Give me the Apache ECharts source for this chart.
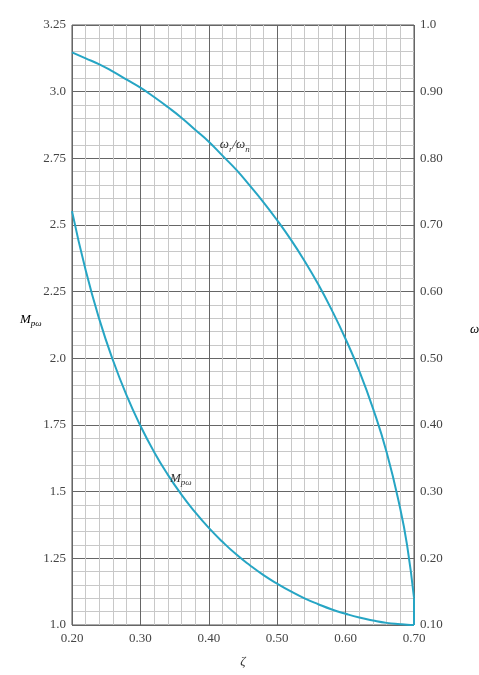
<!DOCTYPE html>
<html><head><meta charset="utf-8">
<script src="https://cdn.jsdelivr.net/npm/echarts@6/dist/echarts.min.js"></script>
<style>html,body{margin:0;padding:0;background:#fff}#c{width:479px;height:675px}</style>
</head><body><div id="c"></div>
<script>
const zeta = [0.20,0.22,0.24,0.26,0.28,0.30,0.32,0.34,0.36,0.38,0.40,0.42,0.44,0.46,0.48,0.50,0.52,0.54,0.56,0.58,0.60,0.62,0.64,0.66,0.68,0.69,0.70];
const mpw = [2.552,2.330,2.146,1.992,1.860,1.747,1.649,1.564,1.489,1.423,1.364,1.312,1.265,1.224,1.187,1.155,1.126,1.100,1.078,1.058,1.042,1.028,1.017,1.008,1.003,1.001,1.000];
const wrwn = [0.959,0.950,0.941,0.930,0.918,0.906,0.892,0.877,0.861,0.843,0.825,0.804,0.783,0.759,0.734,0.707,0.678,0.646,0.611,0.572,0.529,0.481,0.425,0.359,0.274,0.219,0.141];
const wrwnEnd = [[0.70,0.141],[0.70,0.10]];
const xTickLabels = {"0.2":"0.20","0.3":"0.30","0.4":"0.40","0.5":"0.50","0.6":"0.60","0.7":"0.70"};
const leftTickLabels = {"1":"1.0","1.25":"1.25","1.5":"1.5","1.75":"1.75","2":"2.0","2.25":"2.25","2.5":"2.5","2.75":"2.75","3":"3.0","3.25":"3.25"};
const rightTickLabels = {"0.1":"0.10","0.2":"0.20","0.3":"0.30","0.4":"0.40","0.5":"0.50","0.6":"0.60","0.7":"0.70","0.8":"0.80","0.9":"0.90","1":"1.0"};

const SERIF = '"Liberation Serif","DejaVu Serif",serif';
const CURVE = '#26a5c4';
const key = v => String(Math.round(v*1000)/1000);
const rich = {
  i:{fontFamily:SERIF,fontStyle:'italic',fontSize:13,color:'#333'},
  s:{fontFamily:SERIF,fontStyle:'italic',fontSize:9,color:'#333',padding:[9,0,0,0]}
};
const axisLab = {fontFamily:SERIF,fontSize:13,color:'#444'};
const major = {show:true,lineStyle:{color:'#666',width:1}};
const minor = {show:true,lineStyle:{color:'#c8c8c8',width:1}};

const chart = echarts.init(document.getElementById('c'));
chart.setOption({
  animation:false,
  backgroundColor:'#fff',
  grid:{left:72,right:65,top:25,bottom:50,show:true,borderColor:'#555',borderWidth:1,
    containLabel:false,outerBoundsMode:'none'},
  xAxis:{type:'value',min:0.2,max:0.7,interval:0.1,
    axisLine:{show:false},axisTick:{show:false},
    minorTick:{show:false,splitNumber:5},minorSplitLine:minor,splitLine:major,
    axisLabel:Object.assign({formatter:v=>xTickLabels[key(v)]||'',margin:7},axisLab),
    name:'{i|ζ}',nameLocation:'middle',nameGap:30,nameTextStyle:{rich:rich}},
  yAxis:[
    {type:'value',min:1,max:3.25,interval:0.25,position:'left',
      axisLine:{show:false},axisTick:{show:false},
      minorTick:{show:false,splitNumber:5},minorSplitLine:minor,splitLine:major,
      axisLabel:Object.assign({formatter:v=>leftTickLabels[key(v)]||'',margin:6},axisLab)},
    {type:'value',min:0.1,max:1.0,interval:0.1,position:'right',
      axisLine:{show:false},axisTick:{show:false},splitLine:{show:false},
      axisLabel:Object.assign({formatter:v=>rightTickLabels[key(v)]||'',margin:6},axisLab)}
  ],
  graphic:[
    {type:'text',left:20,top:313,style:{text:'{i|M}{s|pω}',rich:rich}},
    {type:'text',left:470,top:323,style:{text:'{i|ω}{s|r}{i|/ω}{s|n}',rich:rich}}
  ],
  series:[
    {type:'line',name:'Mpw',data:zeta.map((z,k)=>[z,mpw[k]]),yAxisIndex:0,smooth:true,showSymbol:false,
      lineStyle:{color:CURVE,width:2},
      markPoint:{symbol:'circle',symbolSize:0,data:[{coord:[0.359,1.55]}],
        label:{show:true,formatter:'{i|M}{s|pω}',rich:rich,position:'inside'}}},
    {type:'line',name:'wrwn',data:zeta.map((z,k)=>[z,wrwn[k]]),yAxisIndex:1,smooth:true,showSymbol:false,
      lineStyle:{color:CURVE,width:2},
      markPoint:{symbol:'circle',symbolSize:0,data:[{coord:[0.438,0.82]}],
        label:{show:true,formatter:'{i|ω}{s|r}{i|/ω}{s|n}',rich:rich,position:'inside'}}},
    {type:'line',name:'wrwnEnd',data:wrwnEnd,yAxisIndex:1,showSymbol:false,lineStyle:{color:CURVE,width:2}}
  ]
});
</script></body></html>
